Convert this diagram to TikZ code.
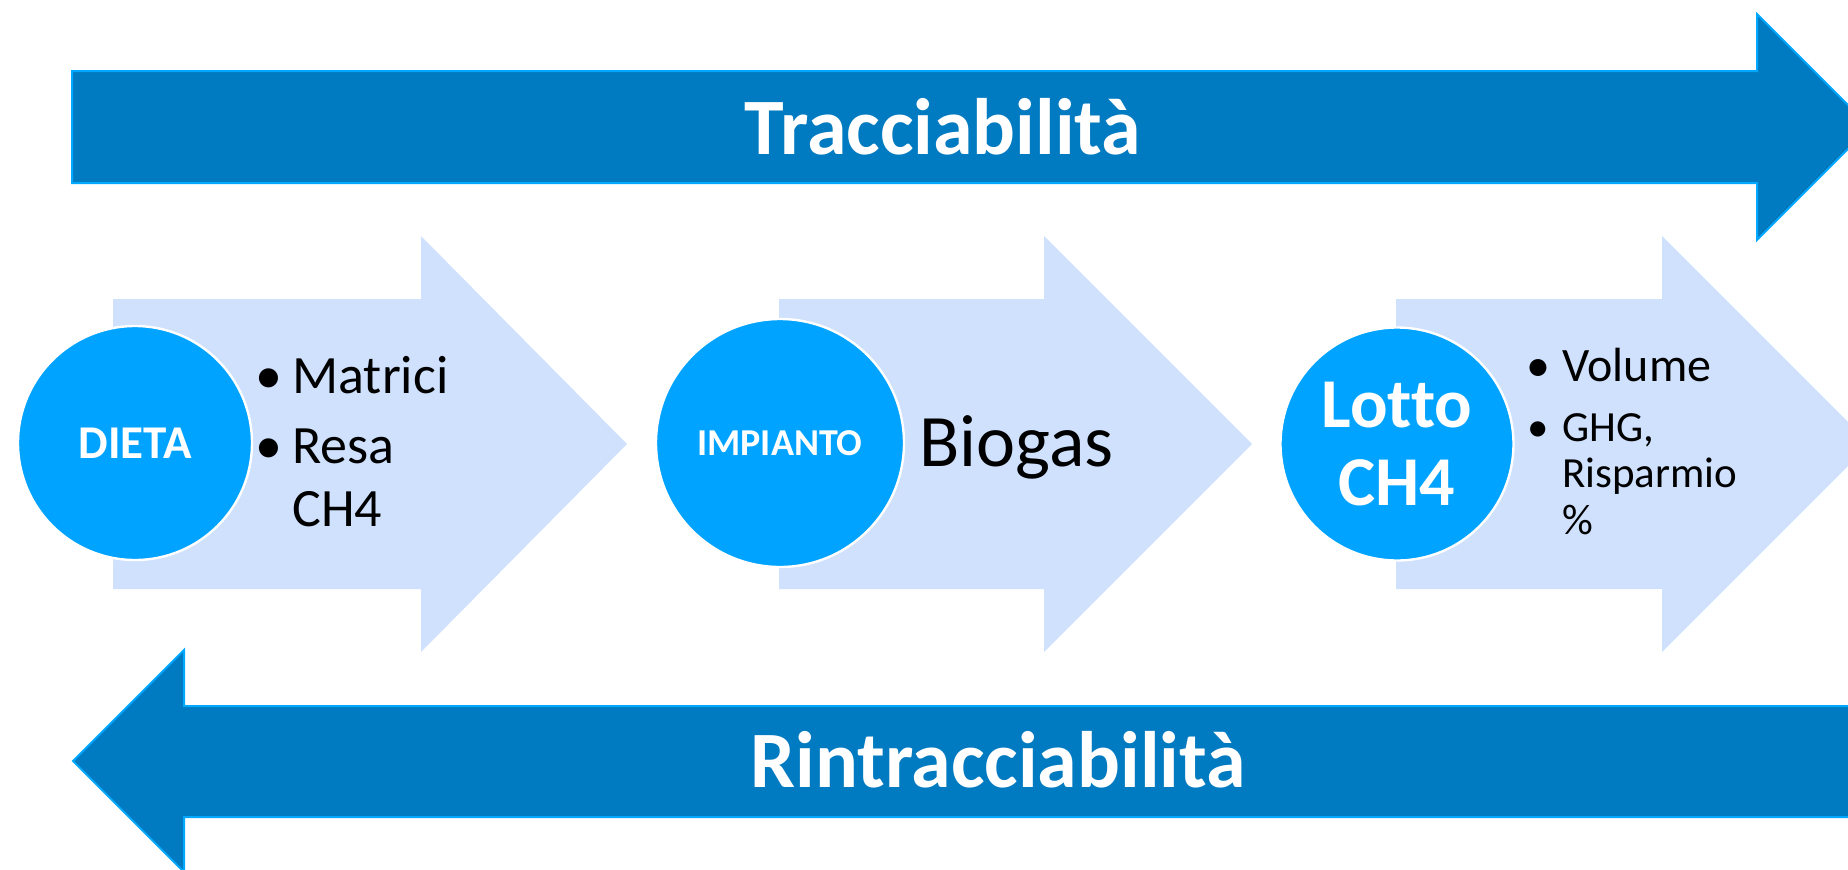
\documentclass[tikz,border=0pt]{standalone}
\usepackage{fontspec}
\setmainfont{Carlito}[Ligatures=NoCommon]
\definecolor{darkarrow}{RGB}{0,122,192}
\definecolor{edgeblue}{RGB}{0,168,255}
\definecolor{lightarrow}{RGB}{207,225,253}
\definecolor{circblue}{RGB}{0,163,255}
\begin{document}
\begin{tikzpicture}[x=0.5pt,y=-0.5pt,
  darkarr/.style={fill=darkarrow, draw=edgeblue, line width=1pt, line join=miter},
  lightarr/.style={fill=lightarrow},
  circ/.style={circle, fill=circblue, draw=white, line width=1.2pt, text=white, inner sep=0pt, align=center},
  titletext/.style={text=white, font=\bfseries\fontsize{40}{48}\selectfont, inner sep=0pt, anchor=base},
  bodytext/.style={inner sep=0pt, anchor=base west, text=black},
  biglist/.style={bodytext, font=\fontsize{27}{31.5}\selectfont},
  vollist/.style={bodytext, font=\fontsize{24}{28}\selectfont},
  smalllist/.style={bodytext, font=\fontsize{21.5}{23.5}\selectfont}]
\useasboundingbox (0,0) rectangle (1848,869);
\clip (0,0) rectangle (1848,869);
% light process arrows
\fill[lightarr] (113,299) -- (421,299) -- (421,236) -- (627,444) -- (421,652) -- (421,589) -- (113,589) -- cycle;
\fill[lightarr] (779,299) -- (1044,299) -- (1044,236) -- (1252,444) -- (1044,652) -- (1044,589) -- (779,589) -- cycle;
\fill[lightarr] (1396,299) -- (1662,299) -- (1662,236) -- (1870,444) -- (1662,652) -- (1662,589) -- (1396,589) -- cycle;
% dark arrows
\draw[darkarr] (72,71) -- (1757,71) -- (1757,14) -- (1870,127) -- (1757,240) -- (1757,183) -- (72,183) -- cycle;
\draw[darkarr] (73,761) -- (184,650) -- (184,706) -- (1900,706) -- (1900,817) -- (184,817) -- (184,872) -- cycle;
\node[titletext] (trac) at (943,154) {Tracciabilità};
\node[titletext] (rintrac) at (998,787) {Rintracciabilità};
% circles
\node[circ, minimum size=117pt, font=\bfseries\fontsize{23.5}{28}\selectfont] (dieta) at (135,443) {DIETA};
\node[circ, minimum size=124pt, font=\bfseries\fontsize{19}{23}\selectfont] (impianto) at (780,443) {IMPIANTO};
\node[circ, minimum size=116.5pt, font=\bfseries\fontsize{35}{39}\selectfont] (lotto) at (1397,444) {Lotto\\CH4};
% list 1
\node[biglist] (b1) at (255,393) {•};
\node[biglist] (matrici) at (292,393) {Matrici};
\node[biglist] (b2) at (255,463) {•};
\node[biglist] (resa) at (292,463) {Resa};
\node[biglist] (ch4a) at (292,526) {CH4};
% biogas
\node[bodytext, font=\fontsize{37}{44}\selectfont] (biogas) at (919,466) {Biogas};
% list 3
\node[vollist] (b3) at (1526,381) {•};
\node[vollist] (volume) at (1562,381) {Volume};
\node[smalllist] (b4) at (1527,441) {•};
\node[smalllist] (ghg) at (1562,441) {GHG,};
\node[smalllist] (risp) at (1562,487) {Risparmio};
\node[smalllist] (perc) at (1562,534) {\%};
\end{tikzpicture}
\end{document}
